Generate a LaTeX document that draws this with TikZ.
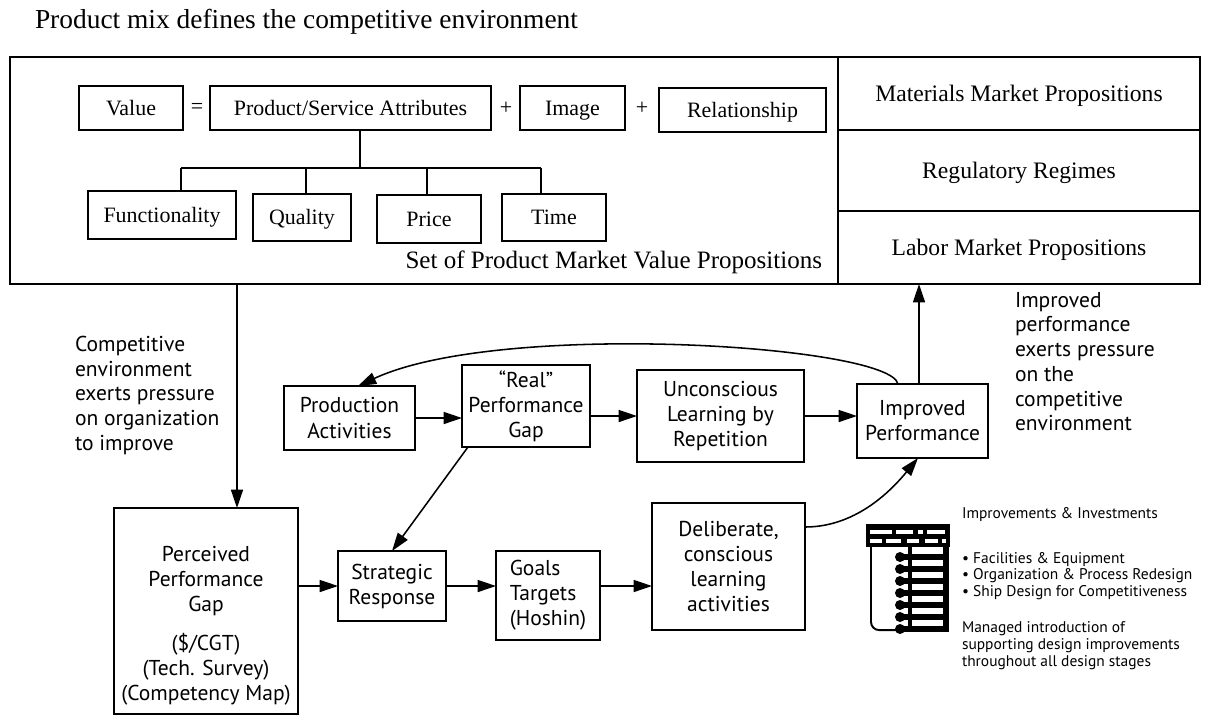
\documentclass[tikz,border=0pt]{standalone}
\usepackage{fontspec}
\setmainfont{Liberation Serif}
\newfontfamily\flowfont{PT Sans}
\usetikzlibrary{arrows.meta}
\begin{document}
\begin{tikzpicture}[x=0.025cm,y=-0.025cm,
  line width=1.1pt,
  every node/.style={inner sep=0pt, outer sep=0pt},
  wh/.style 2 args={minimum width=#1*0.025cm, minimum height=#2*0.025cm},
  topbox/.style={draw, align=center, text height=10.3pt, text depth=0pt,
    font=\fontsize{15.6}{18}\selectfont},
  stackbox/.style={draw, text height=11.1pt, text depth=0pt,
    font=\fontsize{16.8}{19}\selectfont},
  flowbox/.style={draw, align=center, font=\flowfont\fontsize{15.3}{17.8}\selectfont},
  flowtext/.style={align=left, font=\flowfont\fontsize{15.3}{17.6}\selectfont},
  smalltext/.style={align=left, font=\flowfont\fontsize{11}{12}\selectfont},
  arr/.style={-{Triangle[length=13pt,width=8.5pt]}},
]
\useasboundingbox (0,0) rectangle (1214,719);

% ---- heading ----
\node[anchor=west, font=\fontsize{19.5}{22}\selectfont] (title) at (35,22)
  {Product mix defines the competitive environment};

% ---- product market value propositions ----
\node[draw, wh={828}{227}] (pmv) at (424,170.5) {};
\node[stackbox, wh={362}{73}] (mat) at (1019,93.5) {Materials Market Propositions};
\node[stackbox, wh={362}{81}] (reg) at (1019,170.5) {Regulatory Regimes};
\node[stackbox, wh={362}{73}] (lab) at (1019,247.5) {Labor Market Propositions};

\node[topbox, wh={104}{44}] (value) at (131,108) {Value};
\node[font=\fontsize{15.6}{18}\selectfont] (eq) at (197,108) {=};
\node[topbox, wh={281}{44}] (psa) at (350.5,108) {Product/Service Attributes};
\node[font=\fontsize{15.6}{18}\selectfont] (plusa) at (506,108) {+};
\node[topbox, wh={105}{44}] (image) at (572.5,108) {Image};
\node[font=\fontsize{15.6}{18}\selectfont] (plusb) at (642,108) {+};
\node[topbox, wh={167}{44}] (rel) at (742.5,110) {Relationship};

\node[topbox, wh={148}{48}] (func) at (162,215) {Functionality};
\node[topbox, wh={98}{47}] (qual) at (302,217.5) {Quality};
\node[topbox, wh={104}{48}] (price) at (429,219) {Price};
\node[topbox, wh={104}{47}] (time) at (554,217.5) {Time};

\node[anchor=east, font=\fontsize{17.8}{20}\selectfont] (set) at (822,262)
  {Set of Product Market Value Propositions};

% attribute tree
\coordinate (bus) at (360,168);
\draw (psa.south -| bus) -- (bus);
\draw (181,168) -- (541,168);
\foreach \xx/\nd in {181/func,306/qual,427/price,541/time}
  \draw (\xx,168) -- (\nd.north -| \xx,168);

% ---- learning loop ----
\node[flowbox, wh={131}{64}] (prod) at (349.5,418) {Production\\Activities};
\node[flowbox, wh={128}{82}] (real) at (526,406) {“Real”\\Performance\\Gap};
\node[flowbox, wh={167}{92}] (unc) at (720.5,416) {Unconscious\\Learning by\\Repetition};
\node[flowbox, wh={131}{74}] (impr) at (922.5,421) {Improved\\Performance};

\node[draw, wh={184}{206}] (perc) at (206,611) {};
\node[flowbox, draw=none] (perctext) at (206,626)
  {Perceived\\Performance\\Gap\\[10pt](\$/CGT)\\(Tech. Survey)\\(Competency Map)};
\node[flowbox, wh={108}{70}] (strat) at (392,586) {Strategic\\Response};
\node[flowbox, wh={104}{89}, align=left] (goals) at (548,595.5)
  {Goals\\Targets\\(Hoshin)};
\node[flowbox, wh={153}{127}] (delib) at (728.5,566.5)
  {Deliberate,\\conscious\\learning\\activities};

% connectors
\draw[arr] (pmv.south -| 237,0) -- (perc.north -| 237,0);
\draw[arr] (prod.east) -- (real.west |- prod.east);
\draw[arr] (real.east |- unc.west) -- (unc.west);
\draw[arr] (unc.east) -- (impr.west |- unc.east);
\draw[arr] (impr.north -| 919,0) -- (lab.south -| 919,0);
\draw[arr] (impr.north -| 898,0) .. controls +(-8,-39) and +(142,-66) .. (prod.north -| 358,0);
\draw[arr] ([xshift=0.15cm]real.south west) -- (strat.north);
\draw[arr] (perc.east |- strat.west) -- (strat.west);
\draw[arr] (strat.east) -- (goals.west |- strat.east);
\draw[arr] (goals.east |- strat.east) -- (delib.west |- strat.east);
\draw[arr] (delib.east |- 0,527) .. controls +(50,0) and +(-28,34) .. (impr.south -| 918,0);

% annotations
\node[flowtext, anchor=north west] (envnote) at (75,336)
  {Competitive\\environment\\exerts pressure\\on organization\\to improve};
\node[flowtext, anchor=north west] (perfnote) at (1015,292)
  {Improved\\performance\\exerts pressure\\on the\\competitive\\environment};

% improvements and investments
\node[smalltext, anchor=west] (invhead) at (962,515) {Improvements \& Investments};
\node[smalltext, anchor=north west] (invlist) at (962,552)
  {• Facilities \& Equipment\\• Organization \& Process Redesign\\• Ship Design for Competitiveness};
\node[smalltext, anchor=north west] (invnote) at (962,622)
  {Managed introduction of\\supporting design improvements\\throughout all design stages};

% ship structure sketch
\fill (866,524) rectangle (950,547);
\foreach \a/\b in {870/892,896/913,918/923,927/945}
  \fill[white] (\a,529.5) rectangle (\b,533.5);
\foreach \a/\b in {870/882,886/901,907/919,925/938,942/946}
  \fill[white] (\a,538.5) rectangle (\b,542.5);
\draw[line width=1.4pt, rounded corners=0.2cm] (871,547) -- (871,630) -- (905,630);
\draw[line width=3.2pt] (910,547) -- (910,632);
\draw[line width=3.8pt] (946,547) -- (946,632);
\foreach \yy in {557,569,581,593,605,617,629}{
  \fill (900,\yy) circle (5);
  \draw[line width=4.2pt] (900,\yy) -- (944,\yy);
}
\end{tikzpicture}
\end{document}
